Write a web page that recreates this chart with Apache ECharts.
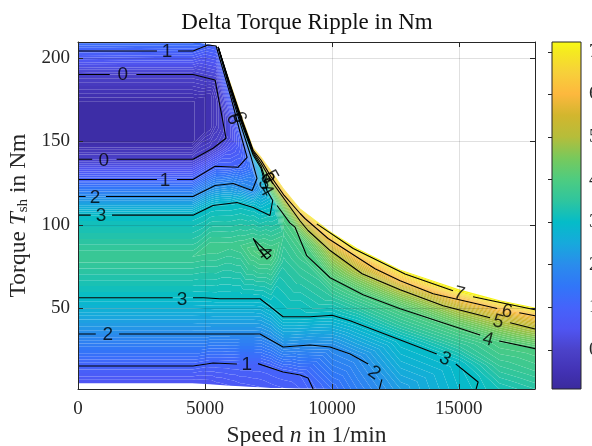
<!DOCTYPE html>
<html>
<head>
<meta charset="utf-8">
<script src="https://cdn.jsdelivr.net/npm/echarts@6/dist/echarts.min.js"></script>
<style>
    html, body { margin: 0; padding: 0; background: #fff; }
    #chart { width: 592px; height: 446px; overflow: hidden; }
</style>
</head>
<body>
<div id="chart"></div>
<script>
const speeds = [0, 4500, 5200, 5450, 6000, 6400, 6900, 7200, 7600, 8100, 8750, 10000, 11000, 12700, 15000, 16600, 18000]

// one row per speed: torque of each mesh station, bottom to top
const torqueAt = [
    [5, 15.4, 34.6, 56.3, 80.9, 105.8, 117, 127.2, 139.3, 149.5, 173.6, 190.1, 204.8, 209.6, 209.6, 209.6, 209.6, 209.6, 209.6, 209.6],
    [5, 15.4, 34.6, 56.3, 80.9, 105.8, 117, 127.2, 139.3, 149.5, 173.6, 190.1, 204.2, 209.6, 209.6, 209.6, 209.6, 209.6, 209.6, 209.6],
    [4.5, 17.2, 34.6, 56, 86.4, 110.7, 122.4, 133.3, 144.7, 157.9, 177.8, 187.6, 207.5, 208.1, 208.1, 208.1, 208.1, 208.1, 208.1, 208.1],
    [4.2, 17.2, 34.6, 55.7, 86.4, 111.6, 123.6, 135.1, 147.3, 159.7, 174.8, 186.8, 206.6, 207.2, 207.2, 207.2, 207.2, 207.2, 207.2, 207.2],
    [3.6, 16.9, 34.6, 55.7, 87.6, 111.9, 124.7, 134.8, 145.9, 151.9, 159.7, 167.5, 177.8, 180.2, 182, 182.6, 183.2, 183.8, 184.7, 185.6],
    [3.2, 16.6, 34.6, 55.7, 87.6, 113.1, 123, 136.3, 141.7, 145.9, 149.5, 151.9, 154.6, 160.3, 162.7, 163.9, 164.8, 165.7, 166.9, 167.5],
    [2.8, 16.6, 34.6, 55.7, 84.5, 111, 120.4, 131.5, 131.5, 131.5, 131.5, 131.5, 131.5, 136.9, 141.7, 142.9, 143.8, 144.7, 145.9, 146.5],
    [2.6, 16.6, 34.3, 55.4, 82.8, 108.3, 120.6, 120.6, 120.6, 120.6, 120.6, 120.6, 120.6, 120.6, 133.9, 135.1, 136.9, 138.7, 140.5, 141.1],
    [2.2, 14.8, 31.6, 52.1, 81.6, 110.4, 113.4, 113.4, 113.4, 113.4, 113.4, 113.4, 113.4, 113.4, 116.4, 119.4, 126.6, 129, 131.5, 132.7],
    [2.2, 11.8, 26.8, 44.9, 77.3, 93.6, 93.6, 93.6, 93.6, 93.6, 93.6, 93.6, 93.6, 93.6, 93.6, 106.2, 115.2, 117.6, 120.6, 121.8],
    [1.9, 9.7, 27.4, 44.9, 69.5, 81.6, 81.6, 81.6, 81.6, 81.6, 81.6, 81.6, 81.6, 81.6, 81.6, 91.8, 102.3, 106.8, 108.6, 109.8],
    [1.6, 1.6, 26.8, 45.8, 56.9, 56.9, 56.9, 56.9, 56.9, 56.9, 56.9, 56.9, 56.9, 56.9, 56.9, 67.7, 83.6, 90.3, 94.2, 95.4],
    [1.6, 1.6, 20.2, 41.3, 50.6, 50.6, 50.6, 50.6, 50.6, 50.6, 50.6, 50.6, 50.6, 50.6, 50.6, 59.9, 72.8, 80.6, 84.5, 86],
    [1.6, 1.6, 1.6, 31, 39.5, 39.5, 39.5, 39.5, 39.5, 39.5, 39.5, 39.5, 39.5, 39.5, 39.5, 49.7, 61.1, 66.5, 71.9, 73.1],
    [1.6, 1.6, 1.6, 17.2, 27.4, 27.4, 27.4, 27.4, 27.4, 27.4, 27.4, 27.4, 27.4, 27.4, 27.4, 37, 49.1, 55.7, 59.6, 61.4],
    [1.6, 1.6, 1.6, 1.6, 15.4, 15.4, 15.4, 15.4, 15.4, 15.4, 15.4, 15.4, 15.4, 15.4, 15.4, 29.8, 42.5, 49.6, 53.5, 54.8],
    [1.6, 1.6, 1.6, 1.6, 12.4, 12.4, 12.4, 12.4, 12.4, 12.4, 12.4, 12.4, 12.4, 12.4, 12.4, 25.8, 37.6, 45.5, 49.1, 50.5],
]

// ripple at those same stations
const rippleAt = [
    [0.5, 1, 2, 3, 3.7, 3, 2, 1, 0, -0.72, -0.72, 0, 1, 1.35, 1.35, 1.35, 1.35, 1.35, 1.35, 1.35],
    [0.5, 1, 2, 3, 3.7, 3, 2, 1, 0, -0.72, -0.72, 0, 1, 1.35, 1.35, 1.35, 1.35, 1.35, 1.35, 1.35],
    [0.5, 1, 2, 3, 3.8, 3, 2, 1, 0, -0.55, -0.55, 0, 1, 1.2, 1.2, 1.2, 1.2, 1.2, 1.2, 1.2],
    [0.55, 1, 2, 3, 3.8, 3, 2, 1, 0, -0.3, -0.3, 0, 1, 1.3, 1.3, 1.3, 1.3, 1.3, 1.3, 1.3],
    [0.6, 1, 2, 3, 3.75, 3, 2, 1, 0.55, 0.3, 0.3, 0.55, 1, 2, 3, 4, 5, 6, 6.5, 6.8],
    [0.65, 1, 2, 3, 3.8, 3, 2, 1, 0.85, 0.8, 0.8, 0.85, 1, 2, 3, 4, 5, 6, 6.5, 6.8],
    [0.68, 1, 2, 3, 4, 3, 2, 1.55, 1.55, 1.55, 1.55, 1.55, 1.55, 2, 3, 4, 5, 6, 6.5, 6.8],
    [0.7, 1, 2, 3, 4.05, 3, 2.3, 2.3, 2.3, 2.3, 2.3, 2.3, 2.3, 2.3, 3, 4, 5, 6, 6.5, 6.8],
    [0.75, 1, 2, 3, 4, 3, 2.9, 2.9, 2.9, 2.9, 2.9, 2.9, 2.9, 2.9, 3, 4, 5, 6, 6.5, 6.8],
    [0.8, 1, 2, 3, 3.45, 3.7, 3.7, 3.7, 3.7, 3.7, 3.7, 3.7, 3.7, 3.7, 3.7, 4, 5, 6, 6.5, 6.8],
    [0.9, 1, 2, 3, 3.5, 3.75, 3.75, 3.75, 3.75, 3.75, 3.75, 3.75, 3.75, 3.75, 3.75, 4, 5, 6, 6.6, 6.9],
    [1.3, 1.3, 2, 3, 3.5, 3.5, 3.5, 3.5, 3.5, 3.5, 3.5, 3.5, 3.5, 3.5, 3.5, 4, 5, 6, 7, 7.2],
    [1.7, 1.7, 2, 3, 3.5, 3.5, 3.5, 3.5, 3.5, 3.5, 3.5, 3.5, 3.5, 3.5, 3.5, 4, 5, 6, 7, 7.2],
    [2.3, 2.3, 2.3, 3, 3.5, 3.5, 3.5, 3.5, 3.5, 3.5, 3.5, 3.5, 3.5, 3.5, 3.5, 4, 5, 6, 7, 7.2],
    [2.9, 2.9, 2.9, 3, 3.5, 3.5, 3.5, 3.5, 3.5, 3.5, 3.5, 3.5, 3.5, 3.5, 3.5, 4, 5, 6, 7, 7.2],
    [3.2, 3.2, 3.2, 3.2, 3.6, 3.6, 3.6, 3.6, 3.6, 3.6, 3.6, 3.6, 3.6, 3.6, 3.6, 4, 5, 6, 7, 7.2],
    [3.4, 3.4, 3.4, 3.4, 3.7, 3.7, 3.7, 3.7, 3.7, 3.7, 3.7, 3.7, 3.7, 3.7, 3.7, 4, 5, 6, 7, 7.2],
]

// black contour lines, [speed, torque], broken where a label sits
const contour0 = [
    [[0, 190.1], [1250, 190.1]],
    [[2300, 190.1], [4530, 190.1], [5400, 186.8], [5830, 151.9], [5320, 145.9], [4530, 139.3], [1520, 139.3]],
    [[560, 139.3], [0, 139.3]],
]
const contour1 = [
    [[0, 204.2], [3110, 204.2]],
    [[3940, 204.2], [4530, 204.2], [5120, 207.8], [5440, 207.2], [5480, 206.6], [6000, 177.8], [6400, 154.6], [6660, 140.5], [6300, 134.5], [5400, 135.1], [4530, 127.2], [3900, 127.2]],
    [[3110, 127.2], [0, 127.2]],
    [[0, 15.4], [4530, 15.4], [5320, 17.2], [6260, 16.6]],
    [[7090, 16.8], [8080, 11.8], [8750, 10], [9060, 8.2], [9260, 1.6]],
]
const contour2 = [
    [[0, 117], [300, 117]],
    [[1100, 117], [4530, 117], [5400, 123.6], [6110, 124.8], [6860, 120.6], [7050, 127.8], [6820, 140.5], [6400, 160.3], [6000, 180.2], [5520, 206.6]],
    [[0, 34.6], [700, 34.6]],
    [[1620, 34.6], [4530, 34.6], [7170, 34.6], [8080, 26.8], [9140, 28], [9930, 26.8], [10720, 22.6], [11430, 16.6]],
    [[11970, 7.4], [11870, 1.6]],
]
const contour3 = [
    [[0, 105.8], [500, 105.8]],
    [[1340, 105.8], [4530, 105.8], [5320, 111.6], [6260, 113.4], [6900, 110.4], [7560, 105.6], [7670, 114.6], [7440, 120.6], [7210, 133.9], [6900, 141.7], [6400, 162.7], [6000, 182], [5520, 206.6]],
    [[0, 56.3], [3730, 56.3]],
    [[4530, 56.3], [4925, 56.3], [5590, 55.7], [7170, 55.7], [8080, 44.9], [9140, 44.9], [10010, 45.8], [10720, 42.5], [12290, 33.4], [14130, 22.6]],
    [[14880, 16.6], [15760, 5.8], [15680, 1.6]],
]
const contour4 = [
    [[5520, 206.6], [6000, 182.6], [6400, 163.9], [6900, 142.9], [7210, 135.1], [7440, 124.8]],
    [[7840, 111.6], [8350, 101], [8550, 98.6], [9010, 81.5], [9930, 68.3], [11230, 58.1], [12690, 49.7], [15840, 34]],
    [[16590, 30.4], [18000, 25.8]],
    [[6900, 91.8], [7210, 87], [7600, 81.6], [7440, 79.5], [7130, 85], [6900, 91.8]],
]
const contour5 = [
    [[5520, 206.6], [6000, 183.2], [6400, 164.8], [6900, 143.8], [7210, 136.9], [7600, 126.6], [8750, 102.3], [9060, 96.6], [9930, 84.6], [11190, 70.7], [12690, 61.1], [14380, 51.5], [16230, 44.3]],
    [[17020, 41.3], [18000, 37.6]],
]
const contour6 = [
    [[5520, 206.6], [6000, 183.8], [6400, 165.7], [6900, 144.7], [7210, 138.7], [7600, 129], [8120, 117.6], [8750, 106.8], [8940, 103.8], [9850, 91.8], [11700, 73.7], [12690, 66.5], [13990, 58.7], [16510, 49.9]],
    [[17380, 47.3], [18000, 45.5]],
]
const contour7 = [
    [[9405, 100.6], [10840, 85.8], [12880, 70.5], [14770, 60.5]],
    [[15560, 56.9], [16630, 53.5], [18000, 49.1]],
]

// [speed, torque, text, rotation]
const contourLabels = [
    [3510, 203.6, '1', 0], [1760, 189.8, '0', 0], [1020, 138.7, '0', 0], [3430, 126.6, '1', 0],
    [670, 116.4, '2', 0], [910, 105.2, '3', 0], [4100, 55.3, '3', 0], [1170, 34, '2', 0],
    [6650, 16, '1', 0], [11660, 11.2, '2', -35], [14460, 19.6, '3', -25], [16150, 31.3, '4', -15],
    [16550, 41.9, '5', -15], [16900, 47.9, '6', -12], [15010, 58.7, '7', -15], [7330, 83.4, '4', -55],
    [6110, 163.3, '6', -70], [6340, 164.5, '6', -70], [7440, 128, '6', -60], [7600, 129.2, '5', -60],
    [7360, 124.3, '5', -60], [7400, 120.6, '4', -60],
]

const torqueTicks = [50, 100, 150, 200]
const speedTicks = [0, 5000, 10000, 15000]
const colorbarTicks = [0, 1, 2, 3, 4, 5, 6, 7]
const colorbarRange = [-0.92, 7.23]

const colormapValues = [-0.92, -0.5, 0, 0.5, 1, 1.5, 2, 2.5, 3, 3.5, 4, 4.5, 5, 5.5, 6, 6.5, 7, 7.23]
const colormapColors = ['#3a2a9c', '#4232b4', '#4b42c9', '#4f55f2', '#4563fb', '#3176f8', '#2a8cec', '#17a9dc', '#05bcc8',
    '#2fc59e', '#4ecc80', '#78c95c', '#b6bd3a', '#d2b62e', '#fdb83e', '#f7d03a', '#f5ea20', '#f8fa14']

const BAND_STEP = 0.1
const SERIF = '"Liberation Serif", serif'
const SANS = '"Liberation Sans", sans-serif'
const INK = '#262626'

const colorOf = (v) => {
    for (let i = 1; i < colormapValues.length; i++) {
        if (v <= colormapValues[i]) {
            const t = (v - colormapValues[i - 1]) / (colormapValues[i] - colormapValues[i - 1])
            return echarts.color.lerp(Math.max(0, t), [colormapColors[i - 1], colormapColors[i]])
        }
    }
    return colormapColors[colormapColors.length - 1]
}

// keeps the part of a polygon on one side of a ripple level, points are [x, y, v]
const clipByLevel = (poly, level, keepAbove) => {
    const out = []
    const inside = (p) => (keepAbove ? p[2] >= level : p[2] <= level)
    for (let i = 0; i < poly.length; i++) {
        const a = poly[i]
        const b = poly[(i + 1) % poly.length]
        if (inside(a)) out.push(a)
        if (inside(a) !== inside(b)) {
            const t = (level - a[2]) / (b[2] - a[2])
            out.push([a[0] + (b[0] - a[0]) * t, a[1] + (b[1] - a[1]) * t, level])
        }
    }
    return out
}

const bandLevels = []
for (let k = 0; k < 84; k++) bandLevels.push(Math.round((-0.9 + k * BAND_STEP) * 10) / 10)

let meshTriangles = null
const buildTriangles = (api) => {
    const vertex = (c, r) => {
        const p = api.coord([speeds[c], torqueAt[c][r]])
        return [p[0], p[1], rippleAt[c][r]]
    }
    const triangles = []
    const pushIfArea = (a, b, c) => {
        const area = Math.abs((b[0] - a[0]) * (c[1] - a[1]) - (c[0] - a[0]) * (b[1] - a[1]))
        if (area > 1e-3) triangles.push([a, b, c])
    }
    for (let c = 0; c < speeds.length - 1; c++) {
        for (let r = 0; r < torqueAt[c].length - 1; r++) {
            const a = vertex(c, r)
            const b = vertex(c + 1, r)
            const d = vertex(c + 1, r + 1)
            const e = vertex(c, r + 1)
            pushIfArea(a, b, d)
            pushIfArea(a, d, e)
        }
    }
    return triangles
}

// one filled path per ripple band, so seams only show between bands like in contourf
const renderBand = (params, api) => {
    if (!meshTriangles) meshTriangles = buildTriangles(api)
    const lo = bandLevels[params.dataIndex]
    const hi = lo + BAND_STEP
    let pathData = ''
    meshTriangles.forEach((tri) => {
        const vs = tri.map((p) => p[2])
        if (Math.max(...vs) < lo || Math.min(...vs) > hi) return
        const poly = clipByLevel(clipByLevel(tri, lo, true), hi, false)
        if (poly.length < 3) return
        pathData += 'M' + poly.map((p) => p[0].toFixed(2) + ' ' + p[1].toFixed(2)).join('L') + 'Z'
    })
    if (!pathData) return null
    return { type: 'path', shape: { pathData }, style: { fill: colorOf(lo + BAND_STEP / 2) }, silent: true }
}

const renderColorbar = (params, api) => {
    const top = api.coord([1, colorbarRange[1]])
    const bottom = api.coord([0, colorbarRange[0]])
    const span = colorbarRange[1] - colorbarRange[0]
    return {
        type: 'rect',
        shape: { x: bottom[0], y: top[1], width: top[0] - bottom[0], height: bottom[1] - top[1] },
        style: {
            fill: {
                type: 'linear', x: 0, y: 1, x2: 0, y2: 0,
                colorStops: colormapValues.map((v, i) => ({ offset: (v - colormapValues[0]) / span, color: colormapColors[i] })),
            },
            stroke: INK,
            lineWidth: 1,
        },
        silent: true,
    }
}

const lineSeries = (segments) => segments.map((seg) => ({
    type: 'line', data: seg, z: 6, symbol: 'none', silent: true, animation: false,
    lineStyle: { color: '#000', width: 1.1 },
}))

const boxAxis = (position, custom, extent, extra) => Object.assign({
    type: 'value', gridIndex: 0, position, min: extent[0], max: extent[1], z: 10,
    axisLine: { show: true, onZero: false, lineStyle: { color: INK, width: 1 } },
    axisTick: { show: true, inside: true, length: 5, customValues: custom, lineStyle: { color: INK, width: 1 } },
    axisLabel: { show: false },
    splitLine: { show: false },
}, extra)

const axisFont = { fontFamily: SERIF, fontSize: 19, color: INK, formatter: (v) => String(v) }
const nameRich = {
    a: { fontFamily: SERIF, fontSize: 23.5, color: INK },
    i: { fontFamily: SERIF, fontSize: 23.5, fontStyle: 'italic', color: INK },
    s: { fontFamily: SERIF, fontSize: 15, color: INK, verticalAlign: 'bottom', padding: [7, 0, 0, 0] },
}

const option = {
    animation: false,
    backgroundColor: '#fff',
    title: {
        text: 'Delta Torque Ripple in Nm', left: 302, top: 6, textAlign: 'center',
        textStyle: { fontFamily: SERIF, fontSize: 23, fontWeight: 'normal', color: '#111' },
    },
    grid: [
        { left: 78, top: 42, width: 457, height: 347, outerBoundsMode: 'none' },
        { left: 552, top: 42, width: 29, height: 347, outerBoundsMode: 'none' },
    ],
    xAxis: [
        boxAxis('bottom', speedTicks, [0, 18000], {
            axisLabel: { show: true, customValues: speedTicks, margin: 11, ...axisFont },
            name: '{a|Speed }{i|n}{a| in 1/min}', nameLocation: 'middle', nameGap: 34,
            nameTextStyle: { rich: nameRich },
        }),
        boxAxis('top', speedTicks, [0, 18000]),
        { type: 'value', gridIndex: 1, min: 0, max: 1, show: false },
    ],
    yAxis: [
        boxAxis('left', torqueTicks, [1.6, 209.6], {
            axisLabel: { show: true, customValues: torqueTicks, margin: 8, ...axisFont },
            name: '{a|Torque }{i|T}{s|sh}{a| in Nm}', nameLocation: 'middle', nameGap: 40,
            nameTextStyle: { rich: nameRich },
        }),
        boxAxis('right', torqueTicks, [1.6, 209.6]),
        {
            type: 'value', gridIndex: 1, position: 'right', min: colorbarRange[0], max: colorbarRange[1], z: 10,
            axisLine: { show: false },
            axisTick: { show: true, inside: true, length: 4, customValues: colorbarTicks, lineStyle: { color: INK, width: 1 } },
            axisLabel: { show: true, customValues: colorbarTicks, margin: 8, ...axisFont },
            splitLine: { show: false },
        },
    ],
    series: [
        {
            type: 'custom', xAxisIndex: 0, yAxisIndex: 0, z: 2, clip: false, silent: true,
            renderItem: renderBand, data: bandLevels.map((v) => [0, v]), encode: { x: 0, y: 1 },
        },
        {
            type: 'custom', xAxisIndex: 2, yAxisIndex: 2, z: 2, silent: true,
            renderItem: renderColorbar, data: [[0, 0]],
        },
        // grid lines sit above the filled contours
        {
            type: 'line', data: [], z: 5, symbol: 'none', silent: true,
            markLine: {
                silent: true, symbol: 'none', animation: false, label: { show: false },
                lineStyle: { color: 'rgba(38,38,38,0.14)', width: 1, type: 'solid' },
                data: speedTicks.slice(1).map((v) => ({ xAxis: v })).concat(torqueTicks.map((v) => ({ yAxis: v }))),
            },
        },
        ...lineSeries(contour0), ...lineSeries(contour1), ...lineSeries(contour2), ...lineSeries(contour3),
        ...lineSeries(contour4), ...lineSeries(contour5), ...lineSeries(contour6), ...lineSeries(contour7),
        {
            type: 'scatter', z: 7, symbolSize: 1, silent: true,
            itemStyle: { color: 'rgba(0,0,0,0)' },
            data: contourLabels.map((d) => ({
                value: [d[0], d[1]],
                label: {
                    show: true, position: 'inside', formatter: d[2], rotate: d[3],
                    fontFamily: SANS, fontSize: 19, color: '#000',
                },
            })),
        },
    ],
}

const myChart = echarts.init(document.getElementById('chart'), null, { renderer: 'canvas' })
myChart.setOption(option)
</script>
</body>
</html>
